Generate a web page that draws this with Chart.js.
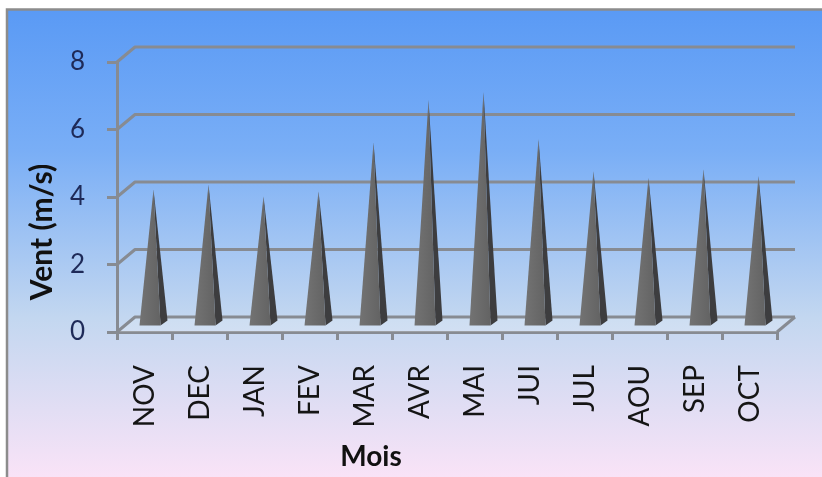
<!DOCTYPE html>
<html>
<head>
<meta charset="utf-8">
<script src="https://cdn.jsdelivr.net/npm/chart.js@4.4.1/dist/chart.umd.min.js"></script>
<style>
  html, body { margin: 0; padding: 0; background: #fff; }
  #wrap { width: 822px; height: 477px; }
</style>
</head>
<body>
<div id="wrap"><canvas id="chart"></canvas></div>
<script>
const months = ["NOV", "DEC", "JAN", "FEV", "MAR", "AVR", "MAI", "JUI", "JUL", "AOU", "SEP", "OCT"];
const vent = [4.0, 4.15, 3.8, 3.95, 5.4, 6.65, 6.9, 5.5, 4.55, 4.35, 4.6, 4.4];
const yTicks = [0, 2, 4, 6, 8];
const yTitle = "Vent (m/s)";
const xTitle = "Mois";

// 3D look: how far the back wall sits from the front axes
const DX = 18, DY = 15;
const gridColor = "#878b92";
const fontFamily = "Lato, 'Open Sans', sans-serif";

const background = {
  id: "background",
  beforeDraw(chart) {
    const ctx = chart.ctx;
    ctx.save();
    ctx.fillStyle = "#fff";
    ctx.fillRect(0, 0, chart.width, chart.height);
    const g = ctx.createLinearGradient(0, 10, 0, chart.height);
    g.addColorStop(0, "#5a9af5");
    g.addColorStop(0.3, "#79aef6");
    g.addColorStop(0.66, "#c3d7f0");
    g.addColorStop(1, "#f9e3f7");
    ctx.fillStyle = g;
    ctx.fillRect(7, 10, chart.width - 7, chart.height - 10);
    ctx.strokeStyle = "#8c8c8c";
    ctx.lineWidth = 2.5;
    ctx.beginPath();
    ctx.moveTo(7, chart.height);
    ctx.lineTo(7, 9.5);
    ctx.lineTo(chart.width, 9.5);
    ctx.stroke();
    ctx.restore();
  }
};

const backWall = {
  id: "backWall",
  beforeDatasetsDraw(chart) {
    const ctx = chart.ctx;
    const { left, right, bottom } = chart.chartArea;
    const y = chart.scales.y;
    ctx.save();
    // floor
    ctx.fillStyle = "rgba(255,255,255,0.18)";
    ctx.beginPath();
    ctx.moveTo(left, bottom);
    ctx.lineTo(right, bottom);
    ctx.lineTo(right + DX, bottom - DY);
    ctx.lineTo(left + DX, bottom - DY);
    ctx.closePath();
    ctx.fill();
    ctx.strokeStyle = gridColor;
    ctx.lineWidth = 3;
    ctx.lineJoin = "round";
    yTicks.forEach(v => {
      const py = y.getPixelForValue(v);
      ctx.beginPath();
      ctx.moveTo(left, py);
      ctx.lineTo(left + DX, py - DY);
      ctx.lineTo(right + DX, py - DY);
      ctx.stroke();
    });
    ctx.beginPath();
    ctx.moveTo(right, bottom);
    ctx.lineTo(right + DX, bottom - DY);
    ctx.stroke();
    ctx.restore();
  }
};

const pyramids = {
  id: "pyramids",
  afterDatasetsDraw(chart) {
    const ctx = chart.ctx;
    const meta = chart.getDatasetMeta(0);
    const hw = 10.5, ox = 3.5, oy = 2.5;
    ctx.save();
    meta.data.forEach(bar => {
      const cx = bar.x + DX / 2;
      const by = bar.base - DY / 2;
      const ty = bar.y - DY / 2;
      const fl = [cx - hw - ox, by + oy];
      const fr = [cx + hw - ox, by + oy];
      const br = [cx + hw + ox, by - oy];
      // right side face
      ctx.fillStyle = "#3d3d3f";
      ctx.beginPath();
      ctx.moveTo(fr[0], fr[1]);
      ctx.lineTo(br[0], br[1]);
      ctx.lineTo(cx, ty);
      ctx.closePath();
      ctx.fill();
      // front face
      const g = ctx.createLinearGradient(fl[0], 0, fr[0], 0);
      g.addColorStop(0, "#737373");
      g.addColorStop(1, "#636363");
      ctx.fillStyle = g;
      ctx.beginPath();
      ctx.moveTo(fl[0], fl[1]);
      ctx.lineTo(fr[0], fr[1]);
      ctx.lineTo(cx, ty);
      ctx.closePath();
      ctx.fill();
    });
    ctx.restore();
  }
};

const axisTitles = {
  id: "axisTitles",
  afterDraw(chart) {
    const ctx = chart.ctx;
    ctx.save();
    ctx.fillStyle = "#111";
    ctx.textAlign = "center";
    ctx.textBaseline = "middle";
    ctx.font = "bold 30px " + fontFamily;
    ctx.translate(42, 232);
    ctx.rotate(-Math.PI / 2);
    ctx.fillText(yTitle, 0, 0);
    ctx.setTransform(1, 0, 0, 1, 0, 0);
    ctx.font = "bold 28px " + fontFamily;
    ctx.fillText(xTitle, 371, 457);
    ctx.restore();
  }
};

new Chart(document.getElementById("chart"), {
  type: "bar",
  data: {
    labels: months,
    datasets: [{
      data: vent,
      backgroundColor: "rgba(0,0,0,0)",
      borderWidth: 0
    }]
  },
  options: {
    responsive: true,
    maintainAspectRatio: false,
    animation: false,
    events: [],
    layout: { padding: { top: 62, right: 45, left: 0, bottom: 0 } },
    plugins: { legend: { display: false }, tooltip: { enabled: false } },
    scales: {
      x: {
        afterFit: s => { s.height = 145; },
        border: { display: true, color: gridColor, width: 3 },
        grid: { offset: true, drawOnChartArea: false, drawTicks: true, tickLength: 8, color: gridColor, lineWidth: 3 },
        ticks: {
          autoSkip: false, minRotation: 90, maxRotation: 90, padding: 25,
          color: "#151515", font: { family: fontFamily, size: 28 }
        }
      },
      y: {
        min: 0, max: 8,
        afterFit: s => { s.width = 117; },
        afterBuildTicks: s => { s.ticks = yTicks.map(v => ({ value: v })); },
        border: { display: true, color: gridColor, width: 3 },
        grid: { drawOnChartArea: false, drawTicks: true, tickLength: 10, color: gridColor, lineWidth: 3 },
        ticks: {
          padding: 22, color: "#1e2a58",
          font: { family: fontFamily, size: 26 }
        }
      }
    }
  },
  plugins: [background, backWall, pyramids, axisTitles]
});
</script>
</body>
</html>
